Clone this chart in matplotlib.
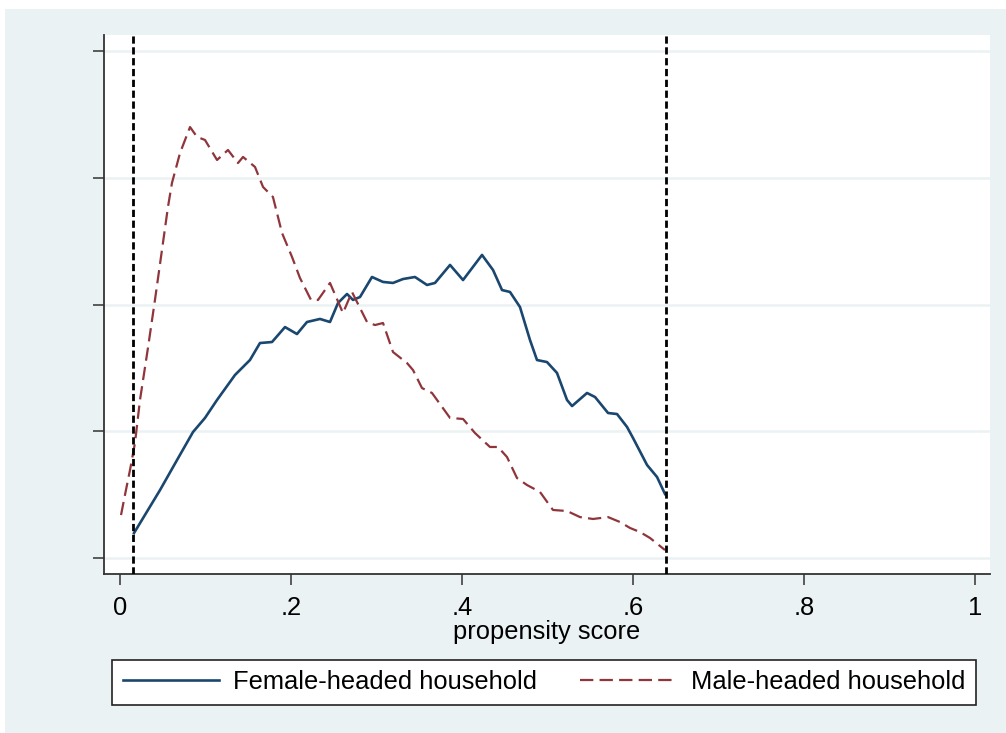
"""Kernel density of propensity scores by household head (Stata s2color look)."""

import matplotlib

matplotlib.use("Agg", force=True)
import matplotlib.pyplot as plt
from matplotlib.patches import Rectangle

# ---- data ----
female_x = [0.0164, 0.0468, 0.0667, 0.0854, 0.0994, 0.1135, 0.1345, 0.152, 0.1637,
            0.1778, 0.193, 0.207, 0.2187, 0.2339, 0.2456, 0.255, 0.2655, 0.2725,
            0.2807, 0.2947, 0.3076, 0.3193, 0.331, 0.345, 0.3591, 0.3684, 0.386,
            0.4012, 0.4234, 0.4363, 0.4468, 0.4561, 0.4678, 0.4795, 0.4877, 0.4994,
            0.5111, 0.5228, 0.5287, 0.5462, 0.5556, 0.5708, 0.5813, 0.593, 0.6,
            0.6164, 0.6281, 0.6374]
female_y = [0.197, 0.536, 0.773, 0.994, 1.105, 1.247, 1.444, 1.562, 1.696,
            1.704, 1.822, 1.767, 1.862, 1.886, 1.862, 2.012, 2.083, 2.036,
            2.059, 2.217, 2.178, 2.170, 2.201, 2.217, 2.154, 2.170, 2.312,
            2.193, 2.391, 2.272, 2.114, 2.099, 1.980, 1.720, 1.562, 1.546,
            1.460, 1.247, 1.199, 1.302, 1.270, 1.144, 1.136, 1.034, 0.947,
            0.734, 0.639, 0.505]

male_x = [0.0012, 0.0058, 0.0117, 0.0175, 0.0234, 0.0327, 0.0409, 0.0491, 0.0561,
          0.0608, 0.0702, 0.0819, 0.0901, 0.0994, 0.1135, 0.1263, 0.138, 0.1439,
          0.1579, 0.1673, 0.1789, 0.1895, 0.2012, 0.2105, 0.2234, 0.2316, 0.2456,
          0.2608, 0.2713, 0.2889, 0.2982, 0.3076, 0.3193, 0.3357, 0.3427, 0.3532,
          0.3649, 0.386, 0.4012, 0.4152, 0.4327, 0.4421, 0.4526, 0.4643, 0.476,
          0.4912, 0.5064, 0.5228, 0.538, 0.5532, 0.5708, 0.5848, 0.5965, 0.6082,
          0.6199, 0.6374]
male_y = [0.339, 0.497, 0.694, 0.907, 1.247, 1.657, 2.036, 2.430, 2.769,
          2.959, 3.195, 3.400, 3.322, 3.298, 3.140, 3.219, 3.116, 3.164,
          3.085, 2.927, 2.848, 2.564, 2.375, 2.209, 2.036, 2.036, 2.170,
          1.933, 2.099, 1.862, 1.838, 1.854, 1.625, 1.538, 1.483, 1.341,
          1.302, 1.105, 1.097, 0.986, 0.876, 0.876, 0.797, 0.631, 0.576,
          0.521, 0.379, 0.371, 0.323, 0.308, 0.323, 0.284, 0.237, 0.205,
          0.158, 0.063]

support_bounds = [0.0152, 0.6386]
x_ticks = [0, 0.2, 0.4, 0.6, 0.8, 1]
x_tick_labels = ["0", ".2", ".4", ".6", ".8", "1"]
y_ticks = [0, 1, 2, 3, 4]

BG = "#EAF2F3"
NAVY = "#1a476f"
MAROON = "#90353b"
FS = 18.4

plt.rcParams["font.family"] = ["Liberation Sans", "DejaVu Sans"]

fig = plt.figure(figsize=(10.06, 7.33), dpi=100, facecolor="white")
# Stata graph region, leaves a thin white strip at left and top
fig.patches.append(Rectangle((5 / 1006, 0), 1, 1 - 9 / 733, transform=fig.transFigure,
                             facecolor=BG, edgecolor="none", zorder=-10))

ax = fig.add_axes([104 / 1006, 159 / 733, 886 / 1006, 539 / 733])
ax.set_zorder(2)
ax.set_facecolor("white")

ax.set_xlim(-0.0187, 1.0175)
ax.set_ylim(-0.126, 4.126)

for yt in y_ticks:
    ax.axhline(yt, color=BG, linewidth=1.8, zorder=1)

ax.plot(female_x, female_y, color=NAVY, linewidth=1.9, zorder=3,
        label="Female-headed household")
ax.plot(male_x, male_y, color=MAROON, linewidth=1.6, dashes=(6.0, 2.8), zorder=3,
        label="Male-headed household")

for b in support_bounds:
    ax.axvline(b, color="black", linewidth=2.0, dashes=(2.6, 1.3), zorder=4)

ax.set_xticks(x_ticks)
ax.set_xticklabels(x_tick_labels, fontsize=FS)
ax.set_yticks(y_ticks)
ax.set_yticklabels([])
ax.tick_params(axis="both", direction="out", length=8, width=1.1, color="#333333",
               pad=7.5)
ax.set_xlabel("propensity score", fontsize=FS, labelpad=0)

for side in ("top", "right"):
    ax.spines[side].set_visible(False)
for side in ("left", "bottom"):
    ax.spines[side].set_color("#333333")
    ax.spines[side].set_linewidth(1.3)

handles, labels = ax.get_legend_handles_labels()
leg = fig.legend(handles, labels, loc="lower left", ncol=2,
                 bbox_to_anchor=(112 / 1006, 28 / 733),
                 fontsize=FS, handlelength=3.75, handletextpad=0.58,
                 borderpad=0.42, columnspacing=1.68, fancybox=False,
                 frameon=True, borderaxespad=0)
leg.set_zorder(5)
leg.get_frame().set_edgecolor("#222222")
leg.get_frame().set_linewidth(1.2)
leg.get_frame().set_facecolor("white")
leg.get_frame().set_alpha(1)

fig.savefig("out.png", dpi=100, facecolor=fig.get_facecolor())
